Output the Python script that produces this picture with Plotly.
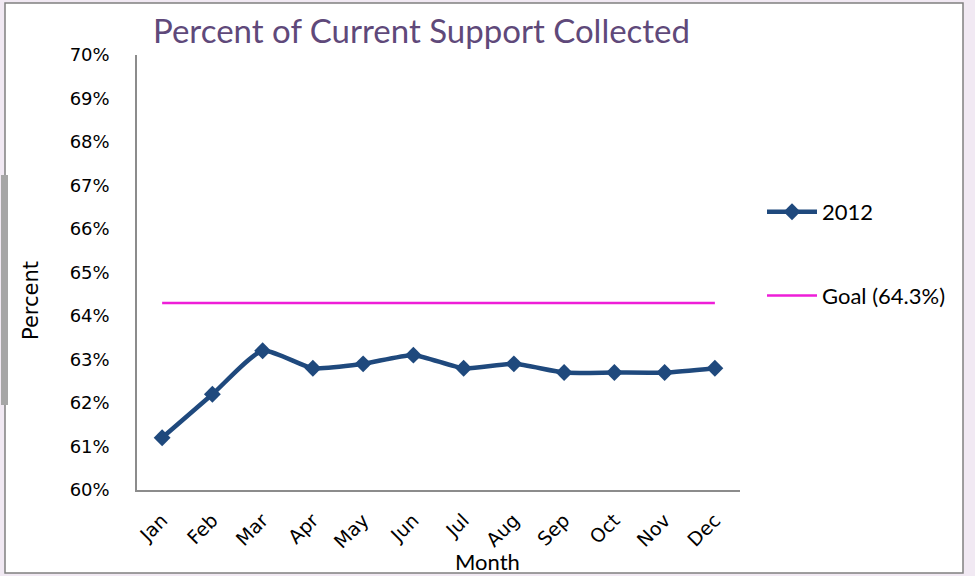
import plotly.graph_objects as go

months = ["Jan", "Feb", "Mar", "Apr", "May", "Jun", "Jul", "Aug", "Sep", "Oct", "Nov", "Dec"]
pct_2012 = [61.2, 62.2, 63.2, 62.8, 62.9, 63.1, 62.8, 62.9, 62.7, 62.7, 62.7, 62.8]
goal_value = 64.3
goal = [goal_value] * len(months)
y_ticks = list(range(60, 71))
y_tick_text = [f"{v}%" for v in y_ticks]

fig = go.Figure()
fig.add_trace(go.Scatter(
    x=months, y=pct_2012, name="2012", mode="lines+markers",
    line=dict(color="#1F497D", width=4.5, shape="spline", smoothing=0.6),
    marker=dict(symbol="diamond", size=13, color="#1F497D"),
    legendgroup="a",
))
fig.add_trace(go.Scatter(
    x=months, y=goal, name="Goal (64.3%)", mode="lines",
    line=dict(color="#EE1ED8", width=2.5),
    legendgroup="b",
))

L, R, T, B = 137, 740, 55, 490
W, H = 975, 576
pw, ph = R - L, B - T

def px(x):
    return (x - L) / pw

def py(y):
    return (B - y) / ph

fig.update_layout(
    width=W, height=H,
    margin=dict(l=L, r=W - R, t=T, b=H - B, autoexpand=False),
    paper_bgcolor="#F1E9F3",
    plot_bgcolor="white",
    title=dict(text="Percent of Current Support Collected", x=153 / W, xanchor="left",
               xref="container", y=1 - 31 / H, yanchor="middle",
               font=dict(family="Lato", size=33, color="#5F497A")),
    showlegend=True,
    legend=dict(x=px(762), xanchor="left", y=py(191), yanchor="top",
                font=dict(family="Lato", size=22, color="black"),
                tracegroupgap=52, traceorder="grouped", bgcolor="rgba(0,0,0,0)",
                itemwidth=50),
    shapes=[
        dict(type="rect", xref="paper", yref="paper", layer="below",
             x0=px(5), x1=px(963), y0=py(573), y1=py(3),
             fillcolor="white", line=dict(color="#808080", width=1.5)),
        dict(type="rect", xref="paper", yref="paper", layer="below",
             x0=px(1), x1=px(8), y0=py(405), y1=py(175),
             fillcolor="#A6A6A6", line=dict(width=0)),
    ],
    annotations=[
        dict(text="Percent", xref="paper", yref="paper", x=px(31), y=py(301),
             xanchor="center", yanchor="middle", textangle=-90, showarrow=False,
             font=dict(family="DejaVu Sans", size=21, color="black")),
        dict(text="Month", xref="paper", yref="paper", x=px(487), y=py(561),
             xanchor="center", yanchor="middle", showarrow=False,
             font=dict(family="Lato", size=22, color="black")),
    ],
)
fig.update_xaxes(
    type="category", range=[-0.5, 11.5], tickangle=-45, automargin=False,
    showline=True, linecolor="#8C8C8C", linewidth=1.5, showgrid=False,
    ticks="", ticklabelstandoff=10,
    tickfont=dict(family="DejaVu Sans", size=19, color="black"),
)
fig.update_yaxes(
    range=[60, 70], tickvals=y_ticks, ticktext=y_tick_text, automargin=False,
    showline=True, linecolor="#8C8C8C", linewidth=1.5, showgrid=False, zeroline=False,
    ticks="", ticklabelstandoff=22,
    tickfont=dict(family="DejaVu Sans", size=18, color="black"),
)

fig.write_html("out.html", config={"displayModeBar": False},
               post_script="document.body.style.margin='0';document.body.style.padding='0';")
